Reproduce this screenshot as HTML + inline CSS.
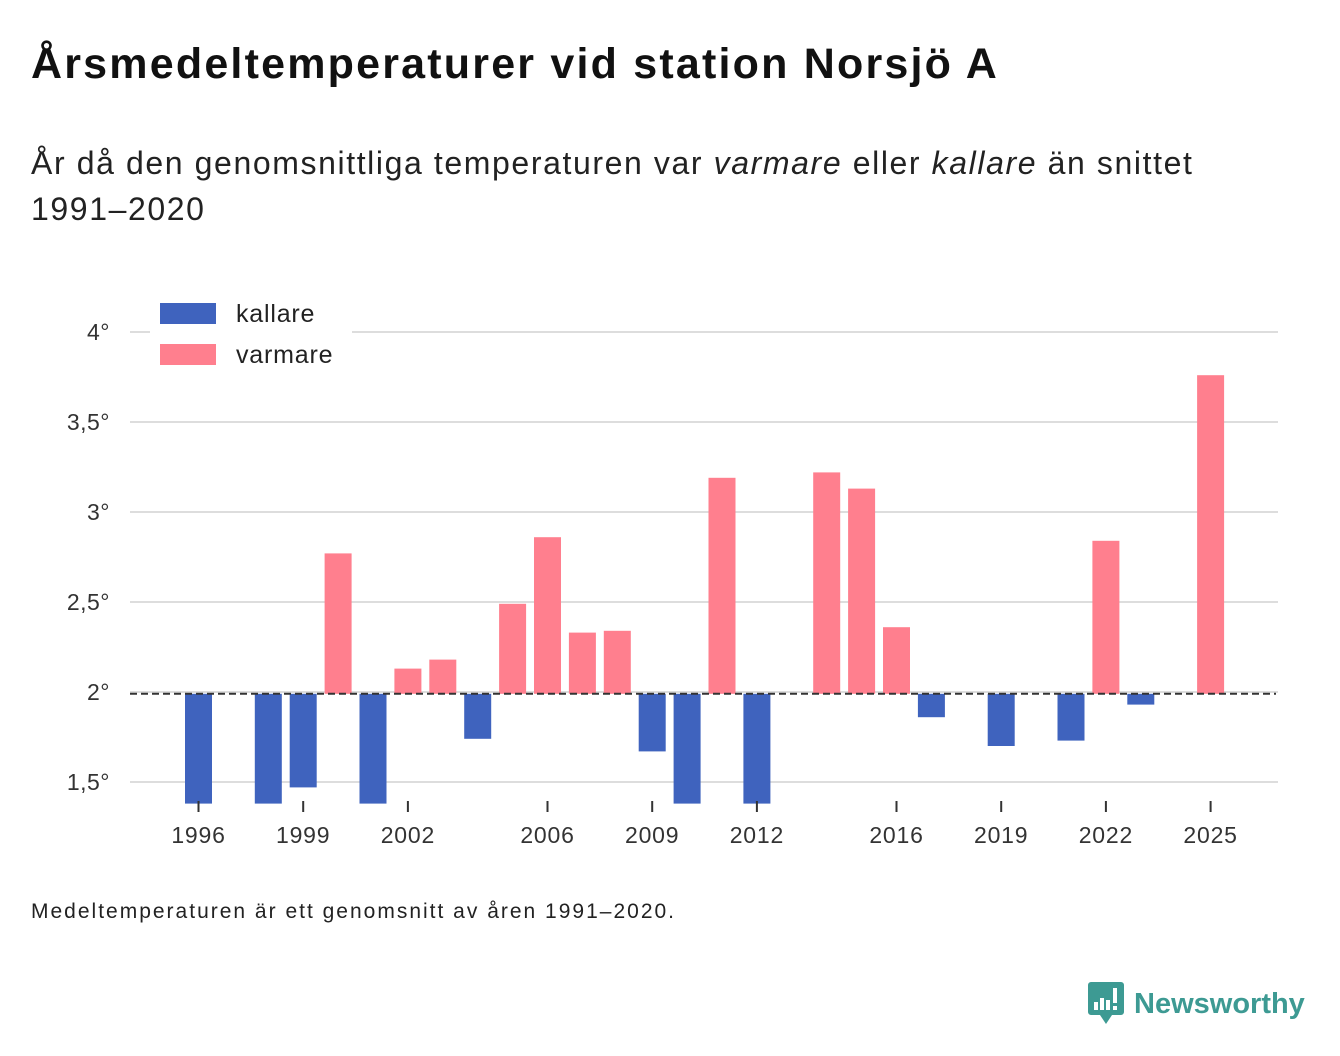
<!DOCTYPE html>
<html><head><meta charset="utf-8">
<style>
body{margin:0;width:1340px;height:1056px;background:#fff;font-family:"Liberation Sans",sans-serif;color:#111;overflow:hidden;position:relative}
.title{position:absolute;left:31px;top:40px;font-size:43px;font-weight:bold;letter-spacing:2.2px;white-space:nowrap}
.sub{position:absolute;left:31px;top:140px;font-size:32px;line-height:46px;color:#222;letter-spacing:1.6px;white-space:nowrap}
.foot{position:absolute;left:31px;top:900px;font-size:21px;color:#222;letter-spacing:2px;white-space:nowrap}
.logo{position:absolute;left:1088px;top:982px;display:flex;align-items:center}
.logo span{font-size:29px;font-weight:bold;color:#3d9a93;margin-left:10px}
svg{position:absolute;left:0;top:0}
</style></head><body>
<div class="title">Årsmedeltemperaturer vid station Norsjö A</div>
<div class="sub">År då den genomsnittliga temperaturen var <i>varmare</i> eller <i>kallare</i> än snittet<br>1991–2020</div>
<svg id="chart" width="1340" height="1056"></svg>
<div class="foot">Medeltemperaturen är ett genomsnitt av åren 1991–2020.</div>
<div class="logo">
<svg width="36" height="44" viewBox="0 0 36 44" style="position:static"><path d="M3 0h30a3 3 0 0 1 3 3v27a3 3 0 0 1-3 3H24l-6 9-6-9H3a3 3 0 0 1-3-3V3a3 3 0 0 1 3-3z" fill="#3d9a93"/><rect x="6" y="20" width="4" height="8" fill="#fff"/><rect x="12" y="16" width="4" height="12" fill="#fff"/><rect x="18" y="18" width="4" height="10" fill="#fff"/><rect x="25" y="6" width="4" height="15" fill="#fff"/><rect x="25" y="24" width="4" height="4" fill="#fff"/></svg>
<span>Newsworthy</span></div>
<script>
const years=[1996,1997,1998,1999,2000,2001,2002,2003,2004,2005,2006,2007,2008,2009,2010,2011,2012,2013,2014,2015,2016,2017,2018,2019,2020,2021,2022,2023,2024,2025];
const temps=[1.2,null,1.3,1.47,2.77,1.3,2.13,2.18,1.74,2.49,2.86,2.33,2.34,1.67,1.3,3.19,1.25,null,3.22,3.13,2.36,1.86,null,1.70,null,1.73,2.84,1.93,null,3.76];
const yTicks=[1.5,2,2.5,3,3.5,4];
const yTickLabels=["1,5°","2°","2,5°","3°","3,5°","4°"];
const xTicks=[1996,1999,2002,2006,2009,2012,2016,2019,2022,2025];
const baseline=1.99;
const yMin=1.38;
const NS="http://www.w3.org/2000/svg";
const svg=document.getElementById('chart');
const Y=v=>692-(v-2)*180;
const X=yr=>198.5+(yr-1996)*34.9;
function mk(t,a){const e=document.createElementNS(NS,t);for(const k in a)e.setAttribute(k,a[k]);svg.appendChild(e);return e;}
yTicks.forEach((t,i)=>{
  const l=mk('line',{x1:130,x2:1278,y1:Y(t),y2:Y(t),stroke:'#ddd','stroke-width':2});
  
  
  const tx=mk('text',{x:110,y:Y(t)+8,'text-anchor':'end','font-size':23,fill:'#333','font-family':'Liberation Sans','letter-spacing':'0.5'});
  tx.textContent=yTickLabels[i];
  
  
});
years.forEach((yr,i)=>{
  const v=temps[i]; if(v==null) return;
  const vv=Math.max(v,yMin);
  const top=Math.min(Y(vv),Y(baseline)), h=Math.abs(Y(vv)-Y(baseline));
  const r=mk('rect',{x:X(yr)-13.5,y:top,width:27,height:h,fill:v>=baseline?'#ff7f8e':'#3f63be'});
  
  
});
const d=mk('line',{x1:130,x2:1276,y1:Y(baseline),y2:Y(baseline),stroke:'#333','stroke-width':2,'stroke-dasharray':'7,4'});


xTicks.forEach(yr=>{
  const l=mk('line',{x1:X(yr),x2:X(yr),y1:801,y2:812,stroke:'#333','stroke-width':2});
  
  
  const t=mk('text',{x:X(yr),y:843,'text-anchor':'middle','font-size':23,fill:'#333','font-family':'Liberation Sans','letter-spacing':'0.8'});
  t.textContent=yr;
  
  
});
const lb=mk('rect',{x:150,y:296,width:202,height:80,fill:'#fff'});


[['kallare','#3f63be',303],['varmare','#ff7f8e',344]].forEach(([n,c,y])=>{
  const r=mk('rect',{x:160,y:y,width:56,height:21,fill:c});
  
  
  const t=mk('text',{x:236,y:y+19,'font-size':25,fill:'#222','font-family':'Liberation Sans','letter-spacing':'0.8'});
  t.textContent=n;
  
  
});
</script>
</body></html>
